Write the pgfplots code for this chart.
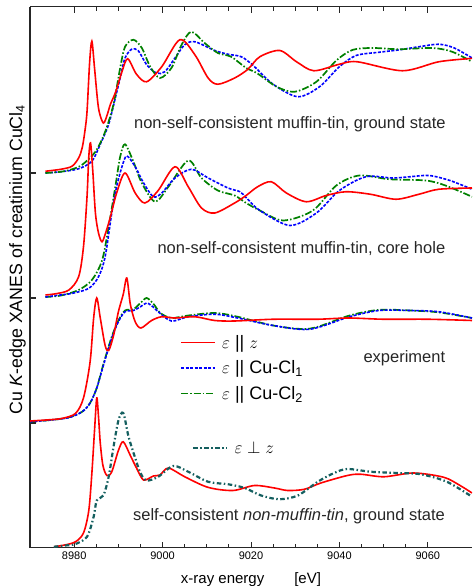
\documentclass[border=0pt]{standalone}
\usepackage{fontspec}
\setmainfont{Liberation Sans}
\usepackage{pgfplots}
\pgfplotsset{compat=1.18}

\definecolor{cred}{RGB}{255,0,0}
\definecolor{cblue}{RGB}{0,0,255}
\definecolor{cgreen}{RGB}{0,128,0}
\definecolor{cteal}{RGB}{20,95,95}

\tikzset{
  redpen/.style={color=cred, solid, line width=1.6pt},
  bluepen/.style={color=cblue, line width=1.6pt, dash pattern=on 3pt off 1.5pt},
  greenpen/.style={color=cgreen, line width=1.7pt, dash pattern=on 7pt off 2pt on 1.5pt off 2pt},
  tealpen/.style={color=cteal, line width=2.2pt, dash pattern=on 4.5pt off 2.5pt on 1.5pt off 2.5pt},
}
\pgfplotsset{
  xanes/.style={
    scale only axis, width=442pt, height=541pt,
    xmin=8970, xmax=9070, ymin=0, ymax=4.328,
  },
  redline/.style={redpen, smooth, tension=0.5,
    legend image code/.code={\draw[redpen] (0pt,0pt) -- (34pt,0pt);}},
  blueline/.style={bluepen, smooth, tension=0.5,
    legend image code/.code={\draw[bluepen] (0pt,0pt) -- (34pt,0pt);}},
  greenline/.style={greenpen, smooth, tension=0.5,
    legend image code/.code={\draw[greenpen] (0pt,0pt) -- (34pt,0pt);}},
  tealline/.style={tealpen, smooth, tension=0.5,
    legend image code/.code={\draw[tealpen] (0pt,0pt) -- (34pt,0pt);}},
}

\begin{document}
\begin{tikzpicture}
\begin{axis}[
  xanes,
  axis x line*=box, axis y line*=left,
  axis line style={black!85, line width=1pt},
  y axis line style={line width=1.4pt},
  xtick={8980,9000,9020,9040,9060}, minor x tick num=3,
  ytick={1,2,3}, yticklabels={},
  tick align=inside,
  major tick length=6pt, minor tick length=4pt,
  tick style={black!85, line width=0.9pt},
  ytick style={line width=1.3pt},
  ticklabel style={font=\fontsize{11}{13}\selectfont},
  /pgf/number format/assume math mode=true,
  /pgf/number format/1000 sep={},
  xlabel={x-ray energy\hspace{30pt}[eV]},
  xlabel style={font=\fontsize{15}{18}\selectfont, at={(axis description cs:0.5,0)}, anchor=north, yshift=-21pt},
  ylabel={Cu \textit{K}-edge XANES of creatinium CuCl\textsubscript{4}},
  ylabel style={font=\fontsize{17.8}{21}\selectfont, at={(axis description cs:-0.018,0.533)}, anchor=base, inner sep=0pt},
  legend style={draw=none, fill=none, font=\fontsize{18}{21}\selectfont,
    at={(axis cs:9003.3,1.44)}, anchor=west, row sep=7pt},
  legend cell align=left,
]
% ---- group 4: self-consistent non-muffin-tin, ground state (offset 0)
\addplot[redline] coordinates {
(8975.4,0.01) (8978,0.025) (8980.3,0.05) (8982.1,0.12) (8983.3,0.30) (8984,0.60)
(8984.6,0.94) (8985.1,1.2) (8985.5,1.05) (8985.9,0.84) (8986.5,0.66) (8987.4,0.58)
(8988.5,0.61) (8990,0.78) (8991.1,0.85) (8992.7,0.74) (8994.1,0.64) (8995.7,0.544)
(8997.9,0.576) (8999.4,0.584) (9001.3,0.64) (9005,0.57) (9010.3,0.485) (9015.9,0.46)
(9020.8,0.50) (9025.3,0.48) (9028.3,0.46) (9032.1,0.47) (9035.8,0.52) (9041.8,0.58)
(9044.8,0.59) (9050.1,0.57) (9056.8,0.60) (9063.6,0.566) (9067.3,0.50) (9070,0.44)};
\addlegendentry{\hspace{4pt}$\varepsilon$ || $z$}
% ---- group 1: non-self-consistent muffin-tin, ground state (offset 3)
\addplot[blueline] coordinates {
(8973.5,3.0) (8977,3.01) (8981,3.034) (8984,3.094) (8985.9,3.23) (8987.8,3.39)
(8989.3,3.6) (8990.4,3.76) (8991.5,3.92) (8993,3.99) (8994.5,3.978) (8996.4,3.866)
(8998.6,3.80) (9000.5,3.81) (9002.8,3.92) (9005,4.026) (9007.3,4.05) (9011.8,3.98)
(9014.8,3.95) (9017.8,3.93) (9020.5,3.86) (9025,3.71) (9030.6,3.61) (9035.5,3.69)
(9040,3.85) (9043.8,3.94) (9049,3.966) (9053.5,3.985) (9058,4.01) (9062.5,4.03)
(9066,4.0) (9070,3.92)};
\addlegendentry{\hspace{4pt}$\varepsilon$ || Cu-Cl\textsubscript{1}}
\addplot[greenline] coordinates {
(8973.5,3.0) (8977,3.01) (8979.5,3.03) (8981.8,3.066) (8984.8,3.17) (8987,3.33)
(8988.9,3.55) (8990.4,3.84) (8991.5,4.01) (8993.4,4.066) (8995.3,4.0) (8997.2,3.85)
(8999.4,3.76) (9002,3.84) (9004.3,4.026) (9006.5,4.13) (9009.5,4.04) (9012.5,3.96)
(9015.5,3.93) (9018.9,3.84) (9021.3,3.80) (9025.8,3.69) (9029.9,3.65) (9034.8,3.73)
(9039.3,3.90) (9043,3.985) (9047.5,4.0) (9053.5,3.99) (9061,4.0) (9065.5,3.97) (9070,3.89)};
\addlegendentry{\hspace{4pt}$\varepsilon$ || Cu-Cl\textsubscript{2}}
\addplot[redline, forget plot] coordinates {
(8973.5,3.014) (8977,3.03) (8979.5,3.054) (8981,3.12) (8981.8,3.2) (8982.4,3.33)
(8982.9,3.49) (8983.5,3.89) (8984.0,4.054) (8984.6,3.84) (8985.5,3.52) (8986.6,3.40)
(8987.5,3.47) (8988.2,3.55) (8989.4,3.65) (8990.8,3.81) (8992.1,3.914) (8994.1,3.79)
(8996.4,3.73) (8999.8,3.85) (9003.9,4.066) (9007.3,3.946) (9010.3,3.76) (9012.5,3.71)
(9016.3,3.76) (9019.3,3.83) (9022,3.93) (9026.5,3.98) (9030.3,3.89) (9034.2,3.818)
(9040,3.87) (9044,3.89) (9054.3,3.818) (9062.5,3.89) (9070,3.917)};
% ---- group 2: non-self-consistent muffin-tin, core hole (offset 2)
\addplot[greenline, forget plot] coordinates {
(8973.5,2.008) (8977,2.02) (8981,2.064) (8984,2.144) (8986.3,2.30) (8987.8,2.57)
(8989.3,2.89) (8990.4,3.13) (8991.5,3.23) (8993.4,3.09) (8995.3,2.92) (8998.3,2.77)
(9001.3,2.89) (9005.8,3.10) (9008.8,2.96) (9012.5,2.86) (9016.3,2.82) (9018.9,2.76)
(9022,2.70) (9027.3,2.62) (9034,2.70) (9039.3,2.90) (9044.5,2.98) (9051.3,2.95)
(9059.5,2.94) (9064,2.90) (9070,2.81)};
\addplot[blueline, forget plot] coordinates {
(8973.5,2.008) (8976,2.02) (8979.5,2.037) (8983.3,2.077) (8985.5,2.17) (8987,2.33)
(8988.5,2.68) (8989.6,2.89) (8990.8,3.05) (8991.9,3.136) (8993.8,3.05) (8995.7,2.92)
(8997.9,2.81) (8999.8,2.84) (9002.8,2.96) (9006.5,3.03) (9010.3,2.96) (9014.8,2.88)
(9017.5,2.85) (9019,2.80) (9022,2.70) (9028.8,2.58) (9034.8,2.68) (9040,2.86)
(9046,2.97) (9052,2.96) (9056,2.97) (9060.3,2.98) (9065,2.94) (9070,2.87)};
\addplot[redline, forget plot] coordinates {
(8973.5,2.024) (8976,2.035) (8978.8,2.064) (8981,2.17) (8982.1,2.41) (8982.9,2.81)
(8983.3,3.13) (8983.7,3.24) (8984.2,3.02) (8984.8,2.68) (8985.5,2.52) (8986.3,2.45)
(8987.2,2.53) (8988.2,2.65) (8989.6,2.84) (8991.5,3.0) (8993.8,2.84) (8996,2.76)
(8999,2.86) (9002.8,3.05) (9005.8,2.89) (9008.8,2.72) (9011.8,2.68) (9016.3,2.76)
(9018.9,2.82) (9021.5,2.89) (9024.6,2.93) (9028,2.84) (9032.5,2.77) (9037,2.82)
(9041.5,2.85) (9047,2.83) (9052.8,2.79) (9058,2.83) (9062.5,2.87) (9070,2.88)};
% ---- group 3: experiment (offset 1)
\addplot[greenline, forget plot] coordinates {
(8970,1.01) (8975,1.025) (8978.8,1.045) (8981.8,1.09) (8983.6,1.16) (8985.1,1.28)
(8986.6,1.47) (8988.5,1.69) (8990,1.82) (8991.5,1.90) (8993.4,1.91) (8995,1.96)
(8996.4,2.0) (8998,1.95) (8999.5,1.88) (9002,1.84) (9005.8,1.86) (9011.8,1.88)
(9017,1.85) (9025,1.78) (9033.3,1.755) (9042.3,1.86) (9049,1.905) (9056,1.90)
(9062.5,1.885) (9070,1.84)};
\addplot[blueline, forget plot] coordinates {
(8970,1.01) (8975,1.025) (8978.8,1.043) (8981.8,1.09) (8983.6,1.16) (8985.1,1.28)
(8986.6,1.46) (8988.5,1.68) (8990,1.81) (8991.5,1.89) (8993.4,1.90) (8995,1.93)
(8996.4,1.96) (8997.8,1.93) (8999,1.89) (9002,1.816) (9005.8,1.85) (9011.8,1.87)
(9017,1.84) (9025,1.78) (9033.3,1.75) (9042.3,1.85) (9049,1.90) (9056,1.90)
(9062.5,1.89) (9070,1.84)};
\addplot[redline, forget plot] coordinates {
(8970,1.016) (8974,1.025) (8977.3,1.037) (8980.3,1.077) (8982.1,1.2) (8983.6,1.49)
(8984.4,1.84) (8985.1,2.0) (8985.9,1.84) (8987,1.62) (8987.8,1.58) (8988.9,1.70)
(8990,1.89) (8991.1,2.03) (8991.9,2.16) (8992.7,1.95) (8993.8,1.81) (8995.1,1.76)
(8997.5,1.82) (8999.8,1.85) (9002.8,1.84) (9007.3,1.85) (9011.8,1.82) (9016.3,1.816)
(9025,1.83) (9035,1.83) (9042,1.84) (9050,1.83) (9060,1.83) (9070,1.82)};
\node[anchor=base, font=\fontsize{16.5}{19}\selectfont, black!85] at (axis cs:9028.8,3.357) {non-self-consistent muffin-tin, ground state};
\node[anchor=base, font=\fontsize{16.5}{19}\selectfont, black!85] at (axis cs:9031.4,2.357) {non-self-consistent muffin-tin, core hole};
\node[anchor=base, font=\fontsize{16.5}{19}\selectfont, black!85] at (axis cs:9054.7,1.482) {experiment};
\node[anchor=base, font=\fontsize{16.5}{19}\selectfont, black!85] at (axis cs:9028.6,0.218) {self-consistent \textit{non-muffin-tin}, ground state};
\coordinate (sw) at (rel axis cs:0,0);
\coordinate (ne) at (rel axis cs:1,1);
\end{axis}
\begin{axis}[
  xanes, hide axis,
  legend style={draw=none, fill=none, font=\fontsize{18}{21}\selectfont,
    at={(axis cs:9006.0,0.8)}, anchor=west},
]
\addplot[tealline] coordinates {
(8975.4,0.01) (8978,0.02) (8980.3,0.032) (8982.9,0.09) (8984.4,0.25) (8985.1,0.38)
(8986.6,0.42) (8987.8,0.57) (8988.9,0.81) (8990,1.02) (8991.1,1.08) (8992.3,0.89)
(8993.8,0.72) (8995,0.60) (8996.4,0.54) (8999,0.57) (9002.4,0.656) (9005.8,0.61)
(9010.3,0.53) (9014.8,0.51) (9018.6,0.48) (9022.3,0.42) (9026.4,0.39) (9030.6,0.42)
(9035.1,0.53) (9038.8,0.60) (9041.8,0.632) (9047.1,0.61) (9053.1,0.60) (9058.4,0.59)
(9064.3,0.53) (9070,0.41)};
\addlegendentry{\hspace{4pt}$\varepsilon\perp z$}
\end{axis}
\pgfresetboundingbox
\path ([xshift=-30pt,yshift=-38pt]sw) rectangle ([yshift=7pt]ne);
\end{tikzpicture}
\end{document}
